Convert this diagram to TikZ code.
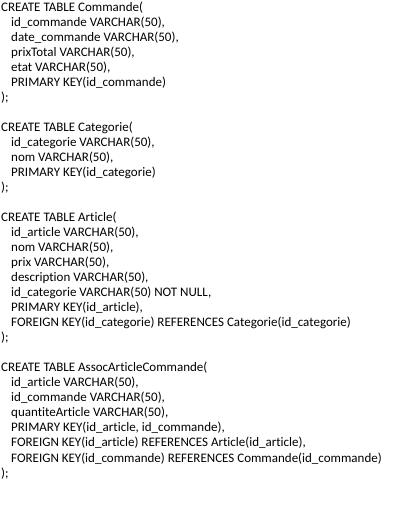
\documentclass[tikz,border=0pt]{standalone}
\usepackage{fontspec}
\setmainfont{Carlito}[Ligatures=NoCommon]
\begin{document}
\begin{tikzpicture}[x=1pt,y=1pt]
		\useasboundingbox (0,0) rectangle (410,507);
		\fill[white] (0,0) rectangle (410,507);
		\tikzset{sqlline/.style={anchor=base west,inner sep=0pt,font=\fontsize{13}{15}\selectfont}}
		%%%%%%%%%%%%%%%%%%%%% C O M M A N D E %%%%%%%%%%%%%%%%%%%%%
		\node[sqlline] (cmd0) at (1,495) {CREATE TABLE Commande(};
		\node[sqlline] (cmd1) at (11,480) {id\_commande VARCHAR(50),};
		\node[sqlline] (cmd2) at (11,465) {date\_commande VARCHAR(50),};
		\node[sqlline] (cmd3) at (11,450) {prixTotal VARCHAR(50),};
		\node[sqlline] (cmd4) at (11,435) {etat VARCHAR(50),};
		\node[sqlline] (cmd5) at (11,420) {PRIMARY KEY(id\_commande)};
		\node[sqlline] (cmd6) at (1,405) {);};
		%%%% CATEGORIE
		\node[sqlline] (cat0) at (1,375) {CREATE TABLE Categorie(};
		\node[sqlline] (cat1) at (11,360) {id\_categorie VARCHAR(50),};
		\node[sqlline] (cat2) at (11,345) {nom VARCHAR(50),};
		\node[sqlline] (cat3) at (11,330) {PRIMARY KEY(id\_categorie)};
		\node[sqlline] (cat4) at (1,315) {);};
		%%%% ARTICLE
		\node[sqlline] (art0) at (1,285) {CREATE TABLE Article(};
		\node[sqlline] (art1) at (11,270) {id\_article VARCHAR(50),};
		\node[sqlline] (art2) at (11,255) {nom VARCHAR(50),};
		\node[sqlline] (art3) at (11,240) {prix VARCHAR(50),};
		\node[sqlline] (art4) at (11,225) {description VARCHAR(50),};
		\node[sqlline] (art5) at (11,210) {id\_categorie VARCHAR(50) NOT NULL,};
		\node[sqlline] (art6) at (11,195) {PRIMARY KEY(id\_article),};
		\node[sqlline] (art7) at (11,180) {FOREIGN KEY(id\_categorie) REFERENCES Categorie(id\_categorie)};
		\node[sqlline] (art8) at (1,165) {);};
		%%%% ASSOC
		\node[sqlline] (asc0) at (1,135) {CREATE TABLE AssocArticleCommande(};
		\node[sqlline] (asc1) at (11,120) {id\_article VARCHAR(50),};
		\node[sqlline] (asc2) at (11,105) {id\_commande VARCHAR(50),};
		\node[sqlline] (asc3) at (11,90) {quantiteArticle VARCHAR(50),};
		\node[sqlline] (asc4) at (11,75) {PRIMARY KEY(id\_article, id\_commande),};
		\node[sqlline] (asc5) at (11,60) {FOREIGN KEY(id\_article) REFERENCES Article(id\_article),};
		\node[sqlline] (asc6) at (11,45) {FOREIGN KEY(id\_commande) REFERENCES Commande(id\_commande)};
		\node[sqlline] (asc7) at (1,30) {);};
	\end{tikzpicture}
\end{document}
